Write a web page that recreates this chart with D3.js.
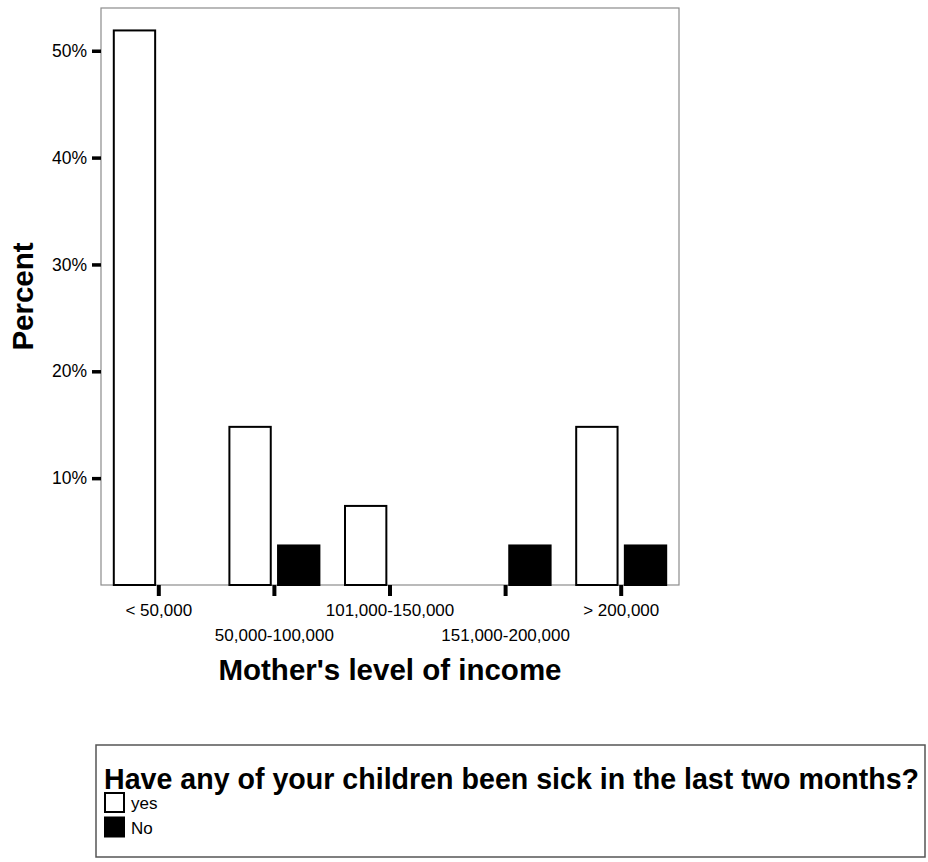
<!DOCTYPE html>
<html>
<head>
<meta charset="utf-8">
<script src="https://cdn.jsdelivr.net/npm/d3@7"></script>
<style>
  body { margin: 0; background: #fff; }
  svg text { font-family: "Liberation Sans", Arial, sans-serif; fill: #000; }
</style>
</head>
<body>
<div id="chart"></div>
<script>
let width_chart = 928;
let height_chart = 862;

let plot = {left: 101, right: 679, top: 8, bottom: 585};

let income_levels = ["< 50,000", "50,000-100,000", "101,000-150,000", "151,000-200,000", "> 200,000"];
let sick_keys = ["yes", "No"];
let yes_values = [51.9, 14.8, 7.4, 0, 14.8];
let no_values = [0, 3.7, 0, 3.7, 3.7];
let y_ticks = [10, 20, 30, 40, 50];

let colors = {yes: "#ffffff", No: "#000000"};

let svg_chart = d3.select("#chart")
    .append("svg")
    .attr("width", width_chart)
    .attr("height", height_chart);

let bar_data = [];
income_levels.forEach((level, i) => {
    bar_data.push({level: level, key: "yes", value: yes_values[i]});
    bar_data.push({level: level, key: "No", value: no_values[i]});
});

let xScale = d3.scaleBand().domain(income_levels).range([plot.left, plot.right]);
let xSub = d3.scaleBand().domain(sick_keys).range([-45, 45]).paddingInner(0.15);
let yScale = d3.scaleLinear().domain([0, 54]).range([plot.bottom, plot.top]);

// frame
svg_chart.append("rect")
    .attr("x", plot.left)
    .attr("y", plot.top)
    .attr("width", plot.right - plot.left)
    .attr("height", plot.bottom - plot.top)
    .attr("fill", "none")
    .attr("stroke", "#8c8c8c")
    .attr("stroke-width", 1.2);

// bars
svg_chart.append("g").attr("id", "bars")
    .selectAll("rect")
    .data(bar_data.filter(d => d.value > 0))
    .join("rect")
    .attr("x", d => xScale(d.level) + xScale.bandwidth() / 2 + xSub(d.key))
    .attr("y", d => yScale(d.value))
    .attr("width", xSub.bandwidth())
    .attr("height", d => yScale(0) - yScale(d.value))
    .attr("fill", d => colors[d.key])
    .attr("stroke", "#000")
    .attr("stroke-width", 2);

// y axis
let yAxis = d3.axisLeft(yScale).tickValues(y_ticks).tickFormat(d => d + "%").tickSize(9).tickPadding(5);
let gy = svg_chart.append("g")
    .attr("transform", "translate(" + plot.left + ",0)")
    .call(yAxis);
gy.select(".domain").remove();
gy.selectAll("line").attr("stroke", "#000").attr("stroke-width", 3.5);
gy.selectAll("text").attr("font-size", 17.5);

// x axis
let xAxis = d3.axisBottom(xScale).tickSize(11).tickPadding(0);
let gx = svg_chart.append("g")
    .attr("transform", "translate(0," + plot.bottom + ")")
    .call(xAxis);
gx.select(".domain").remove();
gx.selectAll("line").attr("stroke", "#000").attr("stroke-width", 4);
gx.selectAll("text")
    .attr("font-size", 17)
    .attr("dy", null)
    .attr("y", (d, i) => i % 2 === 0 ? 31 : 56);

// axis titles
svg_chart.append("text")
    .attr("x", (plot.left + plot.right) / 2)
    .attr("y", 680)
    .attr("text-anchor", "middle")
    .attr("font-size", 29.5)
    .attr("font-weight", "bold")
    .text("Mother's level of income");

svg_chart.append("text")
    .attr("transform", "translate(33," + ((plot.top + plot.bottom) / 2) + ") rotate(-90)")
    .attr("text-anchor", "middle")
    .attr("font-size", 29.5)
    .attr("font-weight", "bold")
    .text("Percent");

// legend
let legend = svg_chart.append("g").attr("id", "legend");
legend.append("rect")
    .attr("x", 96)
    .attr("y", 745)
    .attr("width", 829)
    .attr("height", 112)
    .attr("fill", "none")
    .attr("stroke", "#555")
    .attr("stroke-width", 1.5);

legend.append("text")
    .attr("x", 104)
    .attr("y", 789)
    .attr("font-size", 28.6)
    .attr("font-weight", "bold")
    .text("Have any of your children been sick in the last two months?");

let legend_rows = legend.selectAll(".row")
    .data(sick_keys)
    .join("g")
    .attr("class", "row")
    .attr("transform", (d, i) => "translate(105," + (793 + i * 24.5) + ")");
legend_rows.append("rect")
    .attr("width", 19)
    .attr("height", 19)
    .attr("fill", d => colors[d])
    .attr("stroke", "#000")
    .attr("stroke-width", 2);
legend_rows.append("text")
    .attr("x", 26)
    .attr("y", 16)
    .attr("font-size", 17)
    .text(d => d);
</script>
</body>
</html>
